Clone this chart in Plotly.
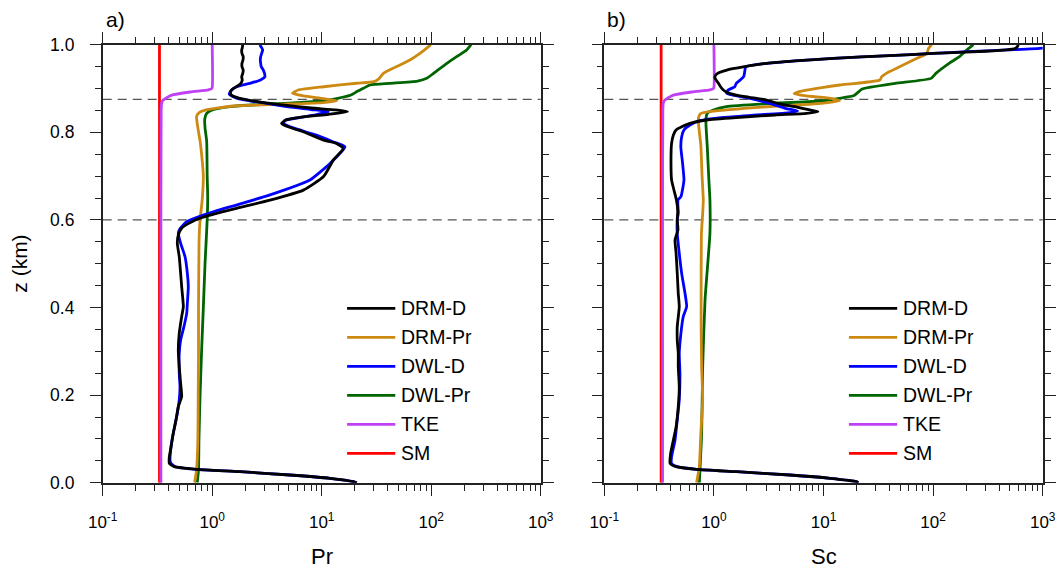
import plotly.graph_objects as go

# ---------------- data ----------------
series_names = ["DRM-D", "DRM-Pr", "DWL-D", "DWL-Pr", "TKE", "SM"]
series_colors = ["#000000", "#CC8A12", "#0000FF", "#006400", "#C040F5", "#FF0000"]
ref_levels = [0.6, 0.875]
decades = [0.1, 1, 10, 100, 1000]
decade_labels = ["10<sup>-1</sup>", "10<sup>0</sup>", "10<sup>1</sup>", "10<sup>2</sup>", "10<sup>3</sup>"]
z_ticks = [0.0, 0.2, 0.4, 0.6, 0.8, 1.0]
panel_labels = ["a)", "b)"]
x_titles = ["Pr", "Sc"]
y_title = "z (km)"

# ---- panel a (Pr) ----
a_drmd_z = [0.0, 0.0024, 0.010, 0.0176, 0.0252, 0.0305, 0.0366, 0.0442, 0.0594, 0.0823, 0.1127, 0.1431,
            0.1736, 0.1964, 0.2269, 0.265, 0.303, 0.341, 0.379, 0.402, 0.448, 0.478, 0.516, 0.5465, 0.565,
            0.582, 0.600, 0.611, 0.6265, 0.645, 0.668, 0.699, 0.737, 0.763, 0.775, 0.782, 0.794, 0.803,
            0.812, 0.820, 0.828, 0.835, 0.841, 0.847, 0.851, 0.8555, 0.862, 0.870, 0.878, 0.886, 0.894,
            0.900, 0.910, 0.919, 0.927, 0.934, 0.942, 0.950, 0.9575, 0.965, 0.9727, 0.980, 0.988, 0.995, 1.0]
a_drmd = [20.9, 19.5, 11.9, 5.1, 1.79, 0.72, 0.45, 0.406, 0.406, 0.421, 0.441, 0.467,
          0.49, 0.526, 0.515, 0.50, 0.49, 0.50, 0.526, 0.545, 0.526, 0.515, 0.50, 0.48, 0.49,
          0.53, 0.70, 0.955, 1.67, 3.37, 6.8, 10.4, 12.8, 15.7, 13.5, 10.4, 8.0, 6.5,
          5.0, 4.3, 4.7, 6.8, 11.5, 17.2, 13.5, 8.0, 4.6, 2.6, 1.75, 1.48, 1.48,
          1.56, 1.8, 1.88, 1.86, 1.90, 1.92, 1.87, 1.87, 1.91, 1.92, 1.87, 1.86, 1.89, 1.90]

a_dwld_z = [0.0, 0.0024, 0.010, 0.0176, 0.0252, 0.0305, 0.0366, 0.0442, 0.0518, 0.0823, 0.1127, 0.158,
            0.1888, 0.2193, 0.2497, 0.2954, 0.3257, 0.3562, 0.3866, 0.4095, 0.4476, 0.478, 0.516, 0.5465,
            0.5693, 0.580, 0.596, 0.611, 0.630, 0.657, 0.691, 0.729, 0.767, 0.778, 0.794, 0.810, 0.820,
            0.827, 0.833, 0.840, 0.847, 0.852, 0.858, 0.866, 0.872, 0.878, 0.887, 0.8966, 0.9042, 0.9118,
            0.919, 0.927, 0.935, 0.9422, 0.950, 0.9575, 0.965, 0.9727, 0.980, 0.988, 0.995, 1.0]
a_dwld = [20.9, 19.5, 11.9, 5.1, 1.79, 0.72, 0.46, 0.42, 0.412, 0.421, 0.441, 0.48,
          0.50, 0.508, 0.50, 0.50, 0.515, 0.552, 0.585, 0.593, 0.605, 0.593, 0.565, 0.515,
          0.49, 0.508, 0.585, 0.83, 1.46, 3.37, 7.8, 11.9, 16.3, 12.8, 8.8, 5.5, 4.5,
          4.6, 6.0, 8.8, 11.5, 8.0, 5.0, 3.15, 2.2, 1.67, 1.43, 1.5, 1.67, 2.21,
          2.73, 3.03, 3.0, 2.93, 2.8, 2.77, 2.75, 2.77, 2.83, 2.89, 2.8, 2.73]

a_drmpr_z = [0.0, 0.03, 0.1, 0.2, 0.3, 0.4, 0.5, 0.56, 0.6, 0.645, 0.7, 0.75, 0.78, 0.81, 0.836, 0.845,
             0.850, 0.855, 0.860, 0.864, 0.868, 0.872, 0.877, 0.883, 0.889, 0.8965, 0.904, 0.912,
             0.9156, 0.9232, 0.9346, 0.950, 0.965, 0.980, 0.992, 1.0]
a_drmpr = [0.69, 0.72, 0.74, 0.745, 0.75, 0.75, 0.755, 0.76, 0.775, 0.81, 0.83, 0.80, 0.775, 0.74, 0.72, 0.76,
           0.85, 1.1, 1.6, 4.0, 10.4, 13.7, 10.4, 6.8, 5.4, 6.1, 10.4, 20.9,
           30.0, 33.6, 36.6, 48.4, 64.0, 79.0, 91.0, 99.0]

a_dwlpr_z = [0.0, 0.03, 0.1, 0.2, 0.3, 0.4, 0.5, 0.6, 0.65, 0.7, 0.78, 0.81, 0.83, 0.843, 0.851, 0.8585,
             0.8646, 0.868, 0.872, 0.8775, 0.885, 0.893, 0.9004, 0.908, 0.9118, 0.917, 0.9232, 0.9346,
             0.9575, 0.9727, 0.988, 1.0]
a_dwlpr = [0.73, 0.75, 0.757, 0.775, 0.80, 0.83, 0.86, 0.90, 0.91, 0.90, 0.89, 0.86, 0.855, 0.89, 1.0, 1.46,
           3.3, 6.5, 10.4, 14.0, 18.5, 21.0, 24.0, 27.6, 42.0, 75.0, 91.0, 105.0,
           139.0, 171.0, 211.0, 231.0]

tke_z = [0.0, 0.3, 0.6, 0.85, 0.866, 0.872, 0.878, 0.885, 0.892, 0.897, 0.899, 0.902, 1.0]
tke = [0.34, 0.34, 0.34, 0.342, 0.345, 0.352, 0.378, 0.427, 0.63, 0.92, 0.98, 1.0, 1.0]

sm_z = [0.0, 1.0]
sm = [0.33, 0.33]

# ---- panel b (Sc) ----
b_drmd_z = [0.0, 0.0024, 0.010, 0.0176, 0.0252, 0.0305, 0.0366, 0.0442, 0.067, 0.0976, 0.128, 0.1736,
            0.2193, 0.265, 0.2954, 0.3257, 0.3562, 0.4019, 0.4324, 0.478, 0.5237, 0.554, 0.577, 0.5998,
            0.620, 0.6454, 0.670, 0.691, 0.7291, 0.7748, 0.7938, 0.8053, 0.8129, 0.8205, 0.8281, 0.8341,
            0.8395, 0.8433, 0.847, 0.851, 0.8584, 0.866, 0.8737, 0.880, 0.885, 0.890, 0.8966, 0.904,
            0.912, 0.920, 0.927, 0.9346, 0.942, 0.9497, 0.9575, 0.963, 0.969, 0.975, 0.980, 0.985,
            0.988, 0.991, 0.995, 1.0]
b_drmd = [20.8, 20.0, 11.5, 4.94, 1.61, 0.695, 0.45, 0.398, 0.403, 0.427, 0.452, 0.473,
          0.483, 0.473, 0.473, 0.463, 0.463, 0.483, 0.473, 0.463, 0.452, 0.442, 0.47, 0.463,
          0.468, 0.455, 0.43, 0.411, 0.406, 0.411, 0.427, 0.451, 0.508, 0.605, 0.86, 1.73,
          3.6, 7.0, 8.9, 7.5, 5.5, 3.8, 3.03, 2.1, 1.6, 1.35, 1.22, 1.15,
          1.10, 1.04, 1.02, 1.08, 1.31, 1.9, 3.03, 5.5, 12.3, 40.0, 100.0, 300.0,
          469.0, 560.0, 585.0, 598.0]

b_dwld_z = [0.0, 0.0024, 0.010, 0.0176, 0.0252, 0.0305, 0.0366, 0.0442, 0.0594, 0.0976, 0.1432, 0.1888,
            0.2497, 0.2954, 0.341, 0.379, 0.4019, 0.4324, 0.478, 0.5237, 0.5693, 0.5998, 0.615, 0.6454,
            0.653, 0.691, 0.7291, 0.7672, 0.790, 0.8053, 0.8167, 0.8266, 0.8341, 0.8395, 0.845, 0.849,
            0.8547, 0.866, 0.8775, 0.885, 0.889, 0.8966, 0.904, 0.9118, 0.920, 0.927, 0.935, 0.942,
            0.9497, 0.955, 0.9575, 0.963, 0.969, 0.975, 0.980, 0.984, 0.988, 0.992, 1.0]
b_dwld = [20.8, 20.0, 11.5, 4.94, 1.61, 0.695, 0.46, 0.41, 0.411, 0.442, 0.463, 0.483,
          0.49, 0.483, 0.50, 0.525, 0.564, 0.545, 0.508, 0.483, 0.463, 0.463, 0.473, 0.47,
          0.50, 0.533, 0.518, 0.499, 0.508, 0.533, 0.605, 0.746, 1.22, 2.45, 4.95, 5.8,
          4.5, 3.25, 2.13, 1.5, 1.31, 1.35, 1.55, 1.6, 1.75, 1.87, 1.9, 1.92,
          1.95, 2.5, 3.03, 5.5, 12.3, 40.0, 100.0, 203.0, 469.0, 1000.0, 1500.0]

b_drmpr_z = [0.0, 0.0366, 0.1127, 0.19, 0.265, 0.35, 0.45, 0.57, 0.615, 0.645, 0.70, 0.77, 0.81, 0.828,
             0.836, 0.842, 0.847, 0.851, 0.855, 0.860, 0.863, 0.866, 0.8715, 0.877, 0.883, 0.888, 0.893,
             0.9027, 0.908, 0.9118, 0.9194, 0.927, 0.935, 0.950, 0.965, 0.980, 0.992, 1.0]
b_drmpr = [0.695, 0.736, 0.76, 0.79, 0.773, 0.765, 0.765, 0.77, 0.79, 0.80, 0.78, 0.76, 0.73, 0.72,
           0.73, 0.75, 0.9, 1.3, 2.0, 3.8, 6.5, 9.5, 14.0, 12.0, 7.0, 5.4, 6.0,
           10.0, 14.1, 20.0, 32.7, 34.0, 37.7, 50.0, 66.0, 87.5, 91.0, 97.0]

b_dwlpr_z = [0.0, 0.1127, 0.265, 0.4172, 0.569, 0.6454, 0.691, 0.7672, 0.8281, 0.8433, 0.851, 0.8585,
             0.866, 0.872, 0.8775, 0.884, 0.8928, 0.899, 0.9118, 0.9231, 0.9346, 0.9575, 0.9727, 0.988, 1.0]
b_dwlpr = [0.736, 0.773, 0.79, 0.83, 0.92, 0.92, 0.90, 0.87, 0.845, 0.87, 0.99, 1.3,
           3.5, 10.0, 14.0, 19.0, 21.0, 22.5, 45.0, 96.0, 106.0, 140.0, 174.0, 203.0, 233.0]

panel_a = [(a_drmd, a_drmd_z), (a_drmpr, a_drmpr_z), (a_dwld, a_dwld_z), (a_dwlpr, a_dwlpr_z), (tke, tke_z), (sm, sm_z)]
panel_b = [(b_drmd, b_drmd_z), (b_drmpr, b_drmpr_z), (b_dwld, b_dwld_z), (b_dwlpr, b_dwlpr_z), (tke, tke_z), (sm, sm_z)]

# ---------------- figure ----------------
W, H = 1062, 568
FONT = "Liberation Sans, Arial, Helvetica, sans-serif"
AX = "#222222"

fig = go.Figure()
draw_order = [5, 4, 3, 1, 2, 0]
for panel, (xa, ya) in zip([panel_a, panel_b], [("x", "y"), ("x2", "y2")]):
    for i in draw_order:
        vals, zs = panel[i]
        fig.add_trace(go.Scatter(x=vals, y=zs, xaxis=xa, yaxis=ya, mode="lines",
                                 name=series_names[i], showlegend=False,
                                 line=dict(color=series_colors[i], width=2.8, shape="spline", smoothing=0.5)))

minor_vals = [d * k for d in decades[:-1] for k in range(2, 10)]

def xaxis_cfg(domain, anchor):
    return dict(type="log", range=[-1, 3], domain=domain, anchor=anchor,
                tickmode="array", tickvals=decades, ticktext=decade_labels,
                ticks="outside", ticklen=11, tickwidth=1.4, tickcolor=AX,
                showline=True, linecolor=AX, linewidth=1.6, mirror="ticks",
                showgrid=False, zeroline=False, ticklabelstandoff=12,
                tickfont=dict(size=17, color="black", family=FONT),
                minor=dict(tickmode="array", tickvals=minor_vals, ticks="outside", ticklen=6,
                           tickwidth=1.2, tickcolor=AX, showgrid=False),
                automargin=False)

def yaxis_cfg(anchor, labels):
    return dict(range=[0, 1], domain=[1 - 482.7 / H, 1 - 44.7 / H], anchor=anchor,
                tickmode="array", tickvals=z_ticks, ticktext=[f"{v:.1f}" for v in z_ticks],
                showticklabels=labels,
                ticks="outside", ticklen=11, tickwidth=1.4, tickcolor=AX,
                showline=True, linecolor=AX, linewidth=1.6, mirror="ticks",
                showgrid=False, zeroline=False, ticklabelstandoff=12,
                tickfont=dict(size=17.5, color="black", family=FONT),
                minor=dict(dtick=0.05, tick0=0, ticks="outside", ticklen=6,
                           tickwidth=1.2, tickcolor=AX, showgrid=False),
                automargin=False)

fig.update_layout(
    width=W, height=H, margin=dict(l=0, r=0, t=0, b=0),
    paper_bgcolor="white", plot_bgcolor="white",
    font=dict(family=FONT, color="black"),
    xaxis=xaxis_cfg([102.7 / W, 540.7 / W], "y"),
    xaxis2=xaxis_cfg([604.3 / W, 1042.7 / W], "y2"),
    yaxis=yaxis_cfg("x", True),
    yaxis2=yaxis_cfg("x2", False),
    showlegend=False,
)

# reference levels (dashed)
for xr, yr in [("x domain", "y"), ("x2 domain", "y2")]:
    for lev in ref_levels:
        fig.add_shape(type="line", xref=xr, yref=yr, x0=0, x1=1, y0=lev, y1=lev,
                      line=dict(color="#555555", width=1.3, dash="9px,6px"), layer="below")

# legends (drawn manually, NCL style)
leg_top = 0.398
leg_step = 0.0662
for xr, yr in [("x domain", "y"), ("x2 domain", "y2")]:
    for k, (nm, col) in enumerate(zip(series_names, series_colors)):
        yy = leg_top - k * leg_step
        fig.add_shape(type="line", xref=xr, yref=yr, x0=0.558, x1=0.668, y0=yy, y1=yy,
                      line=dict(color=col, width=2.8))
        fig.add_annotation(xref=xr, yref=yr, x=0.676, y=yy, text=nm, showarrow=False,
                           xanchor="left", yanchor="middle", font=dict(size=19.5, family=FONT, color="black"))

# panel labels and axis titles
for lab, xpix in zip(panel_labels, [104, 605]):
    fig.add_annotation(xref="paper", yref="paper", x=xpix / W, y=1 - 19 / H, text=lab, showarrow=False,
                       xanchor="left", yanchor="middle", font=dict(size=21, family=FONT, color="black"))
for t, xc in zip(x_titles, [321.7, 823.5]):
    fig.add_annotation(xref="paper", yref="paper", x=xc / W, y=1 - 556 / H, text=t, showarrow=False,
                       xanchor="center", yanchor="middle", font=dict(size=22, family=FONT, color="black"))
fig.add_annotation(xref="paper", yref="paper", x=20 / W, y=1 - 263.7 / H, text=y_title, showarrow=False,
                   textangle=-90, xanchor="center", yanchor="middle", font=dict(size=21, family=FONT, color="black"))

fig.write_html("out.html", config={"displayModeBar": False},
               post_script="document.body.style.margin='0px';document.body.style.overflow='hidden';")
